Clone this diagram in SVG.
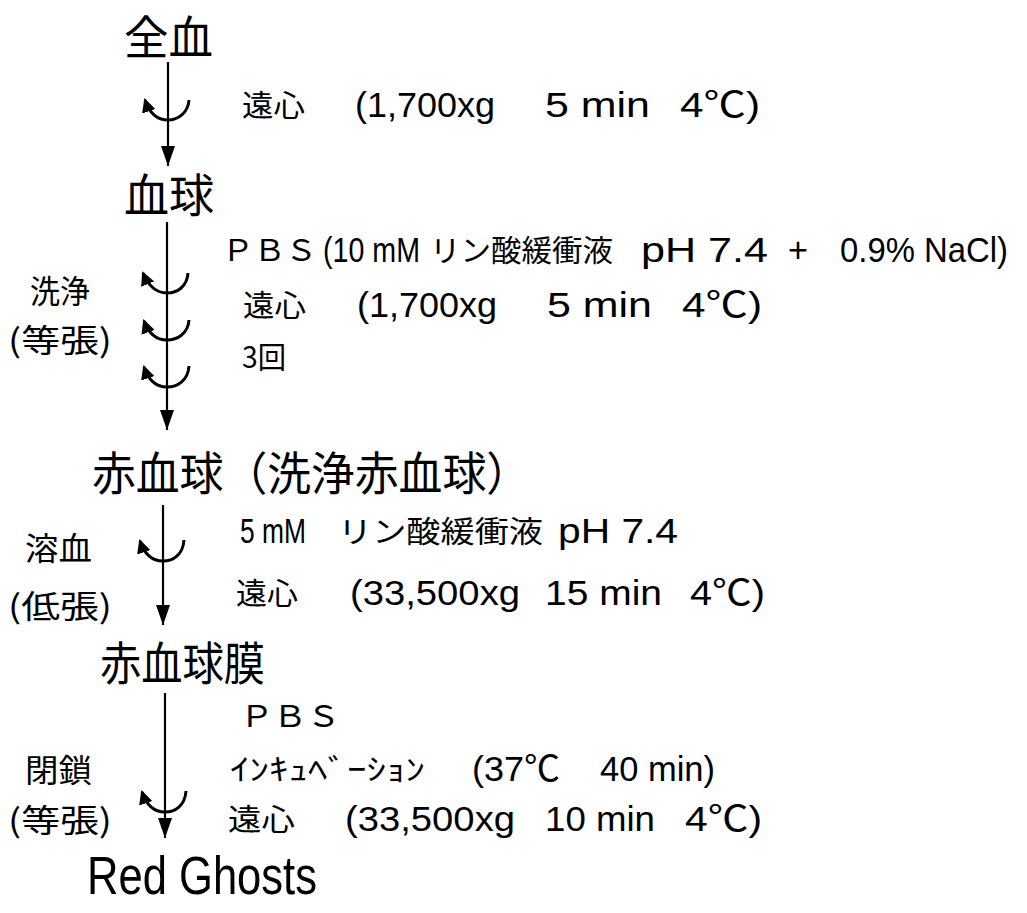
<svg xmlns="http://www.w3.org/2000/svg" width="1027" height="913" viewBox="0 0 1027 913">
<defs>
<marker id="ah" viewBox="0 0 20 14" refX="20" refY="7" markerWidth="20" markerHeight="14" markerUnits="userSpaceOnUse" orient="auto">
<path d="M0,0 L20,7 L0,14 Z" fill="#000"/>
</marker>
<marker id="hk" viewBox="0 0 14 14" refX="12" refY="7" markerWidth="14" markerHeight="14" markerUnits="userSpaceOnUse" orient="auto">
<path d="M0,0 L14,7 L0,14 Z" fill="#000"/>
</marker>
<style>
text{font-family:"Liberation Sans","Noto Sans CJK JP",sans-serif;fill:#000}
.j{font-family:"Noto Sans CJK JP",sans-serif}
.big{font-size:46px}
.mid{font-size:30px}
.lat{font-size:35px}
.lab{font-size:32px}
.rg{font-size:54px}
.ln{stroke:#000;stroke-width:2.2;fill:none}
.hook{stroke:#000;stroke-width:3;fill:none}
</style>
</defs>
<rect width="1027" height="913" fill="#fff"/>

<g id="n-zenketsu"><text class="j big" x="124" y="54" textLength="89" lengthAdjust="spacingAndGlyphs">全血</text></g>
<g id="n-kekkyu"><text class="j big" x="124" y="212" textLength="90" lengthAdjust="spacingAndGlyphs">血球</text></g>
<g id="n-sekkekkyu"><text class="j big" x="92" y="490" textLength="438" lengthAdjust="spacingAndGlyphs">赤血球（洗浄赤血球）</text></g>
<g id="n-maku"><text class="j big" x="100" y="680" textLength="165" lengthAdjust="spacingAndGlyphs">赤血球膜</text></g>
<g id="n-ghosts"><text class="rg" x="87" y="894" textLength="230" lengthAdjust="spacingAndGlyphs">Red Ghosts</text></g>

<g id="connectors">
<line class="ln" x1="168" y1="62" x2="168" y2="166" marker-end="url(#ah)"/>
<line class="ln" x1="167" y1="222" x2="167" y2="430" marker-end="url(#ah)"/>
<line class="ln" x1="163" y1="505" x2="163" y2="625" marker-end="url(#ah)"/>
<line class="ln" x1="165" y1="693" x2="165" y2="838" marker-end="url(#ah)"/>
<path class="hook" d="M189,100 C188,113 178,120 168,120 C156,120 149,112 145,100" marker-end="url(#hk)"/>
<path class="hook" d="M188,273 C187,287 177,293 167,293 C155,293 148,285 143,273" marker-end="url(#hk)"/>
<path class="hook" d="M189,320 C188,334 177,340 167,340 C155,340 148,332 144,321" marker-end="url(#hk)"/>
<path class="hook" d="M189,366 C188,381 177,387 167,387 C155,387 148,379 144,367" marker-end="url(#hk)"/>
<path class="hook" d="M184,540 C183,555 173,561 163,561 C151,561 144,553 140,541" marker-end="url(#hk)"/>
<path class="hook" d="M186,791 C185,806 175,812 165,812 C153,812 146,804 142,792" marker-end="url(#hk)"/>
</g>

<g id="step1">
<text class="j mid" x="242" y="116" textLength="63" lengthAdjust="spacingAndGlyphs">遠心</text>
<text class="lat" x="355" y="117" textLength="140" lengthAdjust="spacingAndGlyphs">(1,700xg</text>
<text class="lat" x="545" y="117" textLength="105" lengthAdjust="spacingAndGlyphs">5 min</text>
<text class="lat" x="680" y="117" textLength="80" lengthAdjust="spacingAndGlyphs">4℃)</text>
</g>

<g id="step2">
<text class="lab j" x="30" y="303" textLength="60" lengthAdjust="spacingAndGlyphs">洗浄</text>
<text class="lab j" x="8" y="352" textLength="104" lengthAdjust="spacingAndGlyphs">(等張)</text>
<text class="j mid" x="222" y="261" textLength="95" lengthAdjust="spacingAndGlyphs">ＰＢＳ</text>
<text class="lat" x="323" y="262" textLength="97" lengthAdjust="spacingAndGlyphs">(10 mM</text>
<text class="j mid" x="430" y="261" textLength="183" lengthAdjust="spacingAndGlyphs">リン酸緩衝液</text>
<text class="lat" x="641" y="262" textLength="127" lengthAdjust="spacingAndGlyphs">pH 7.4</text>
<text class="lat" x="788" y="262" textLength="20" lengthAdjust="spacingAndGlyphs">+</text>
<text class="lat" x="840" y="262" textLength="168" lengthAdjust="spacingAndGlyphs">0.9% NaCl)</text>
<text class="j mid" x="243" y="316" textLength="63" lengthAdjust="spacingAndGlyphs">遠心</text>
<text class="lat" x="357" y="317" textLength="140" lengthAdjust="spacingAndGlyphs">(1,700xg</text>
<text class="lat" x="547" y="317" textLength="105" lengthAdjust="spacingAndGlyphs">5 min</text>
<text class="lat" x="682" y="317" textLength="80" lengthAdjust="spacingAndGlyphs">4℃)</text>
<text class="j mid" x="242" y="368" textLength="44" lengthAdjust="spacingAndGlyphs">3回</text>
</g>

<g id="step3">
<text class="lab j" x="25" y="560" textLength="67" lengthAdjust="spacingAndGlyphs">溶血</text>
<text class="lab j" x="8" y="618" textLength="104" lengthAdjust="spacingAndGlyphs">(低張)</text>
<text class="lat" x="240" y="543" textLength="66" lengthAdjust="spacingAndGlyphs">5 mM</text>
<text class="j mid" x="338" y="542" textLength="205" lengthAdjust="spacingAndGlyphs">リン酸緩衝液</text>
<text class="lat" x="558" y="543" textLength="120" lengthAdjust="spacingAndGlyphs">pH 7.4</text>
<text class="j mid" x="236" y="604" textLength="62" lengthAdjust="spacingAndGlyphs">遠心</text>
<text class="lat" x="350" y="605" textLength="170" lengthAdjust="spacingAndGlyphs">(33,500xg</text>
<text class="lat" x="545" y="605" textLength="117" lengthAdjust="spacingAndGlyphs">15 min</text>
<text class="lat" x="690" y="605" textLength="75" lengthAdjust="spacingAndGlyphs">4℃)</text>
</g>

<g id="step4">
<text class="lab j" x="25" y="782" textLength="67" lengthAdjust="spacingAndGlyphs">閉鎖</text>
<text class="lab j" x="8" y="832" textLength="104" lengthAdjust="spacingAndGlyphs">(等張)</text>
<text class="j mid" x="240" y="727" textLength="100" lengthAdjust="spacingAndGlyphs">ＰＢＳ</text>
<text class="j mid" x="230" y="780" textLength="195" lengthAdjust="spacingAndGlyphs">ｲﾝｷｭﾍﾞｰｼｮﾝ</text>
<text class="lat" x="472" y="781" textLength="88" lengthAdjust="spacingAndGlyphs">(37℃</text>
<text class="lat" x="600" y="781" textLength="115" lengthAdjust="spacingAndGlyphs">40 min)</text>
<text class="j mid" x="228" y="830" textLength="67" lengthAdjust="spacingAndGlyphs">遠心</text>
<text class="lat" x="345" y="831" textLength="170" lengthAdjust="spacingAndGlyphs">(33,500xg</text>
<text class="lat" x="545" y="831" textLength="110" lengthAdjust="spacingAndGlyphs">10 min</text>
<text class="lat" x="685" y="831" textLength="77" lengthAdjust="spacingAndGlyphs">4℃)</text>
</g>
</svg>
